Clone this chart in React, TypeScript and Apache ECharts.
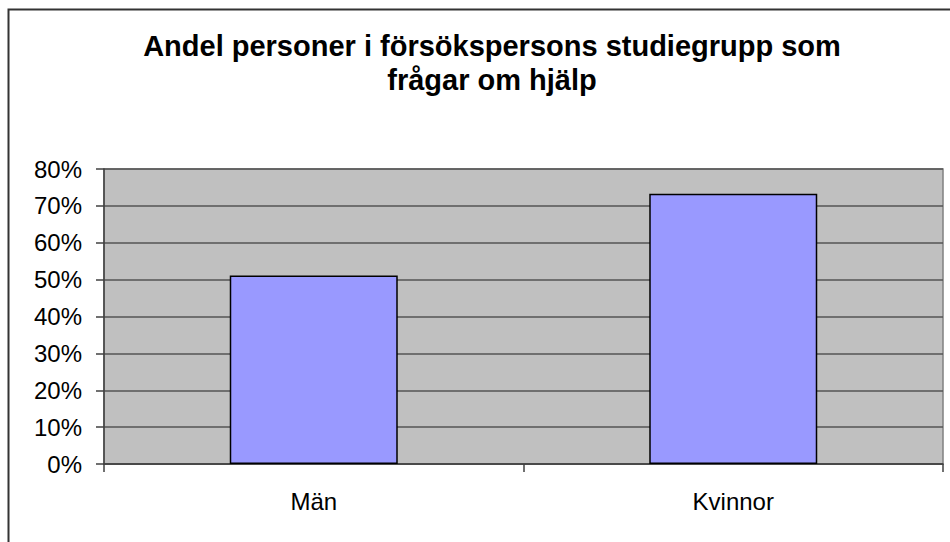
import React, { useEffect, useRef } from "react";
import * as echarts from "echarts";

const categories = ["Män", "Kvinnor"];
const shares = [51.1, 73.3];
const titleLines = ["Andel personer i försökspersons studiegrupp som", "frågar om hjälp"];

export default function App() {
  const ref = useRef<HTMLDivElement>(null);
  useEffect(() => {
    if (!ref.current) return;
    const chart = echarts.init(ref.current, undefined, { renderer: "svg" });
    chart.setOption({
      animation: false,
      backgroundColor: "#ffffff",
      textStyle: { fontFamily: "Liberation Sans, Arial, sans-serif" },
      title: {
        text: titleLines.join("\n"),
        left: 487,
        top: 24,
        textAlign: "center",
        textStyle: {
          fontFamily: "Liberation Sans, Arial, sans-serif",
          fontSize: 29,
          fontWeight: "bold",
          color: "#000000",
          lineHeight: 34,
        },
      },
      graphic: [
        {
          type: "rect",
          shape: { x: 8.5, y: 9.5, width: 960, height: 560 },
          style: { fill: "none", stroke: "#333333", lineWidth: 2 },
          silent: true,
        },
      ],
      grid: {
        left: 104,
        top: 169,
        right: 7,
        bottom: 78,
        show: true,
        backgroundColor: "#C0C0C0",
        borderColor: "#808080",
        borderWidth: 1.5,
      },
      xAxis: {
        type: "category",
        data: categories,
        axisLine: { show: true, lineStyle: { color: "#404040", width: 1.5 } },
        axisTick: { show: true, length: 8, alignWithLabel: false, lineStyle: { color: "#404040", width: 1.5 } },
        axisLabel: {
          fontSize: 24,
          lineHeight: 24,
          color: "#000000",
          margin: 25,
          fontFamily: "Liberation Sans, Arial, sans-serif",
        },
        splitLine: { show: false },
      },
      yAxis: {
        type: "value",
        min: 0,
        max: 80,
        interval: 10,
        axisLine: { show: true, lineStyle: { color: "#404040", width: 1.5 } },
        axisTick: { show: true, length: 8, lineStyle: { color: "#404040", width: 1.5 } },
        axisLabel: {
          formatter: "{value}%",
          fontSize: 24,
          color: "#000000",
          margin: 22,
          fontFamily: "Liberation Sans, Arial, sans-serif",
        },
        splitLine: { show: true, lineStyle: { color: "#555555", width: 1.5 } },
      },
      series: [
        {
          type: "bar",
          data: shares,
          barWidth: 168,
          itemStyle: { color: "#9999FF", borderColor: "#000000", borderWidth: 1.5 },
        },
      ],
    });
    return () => chart.dispose();
  }, []);
  return (
    <div
      ref={ref}
      style={{ position: "fixed", left: 0, top: 0, width: 950, height: 542 }}
    />
  );
}
